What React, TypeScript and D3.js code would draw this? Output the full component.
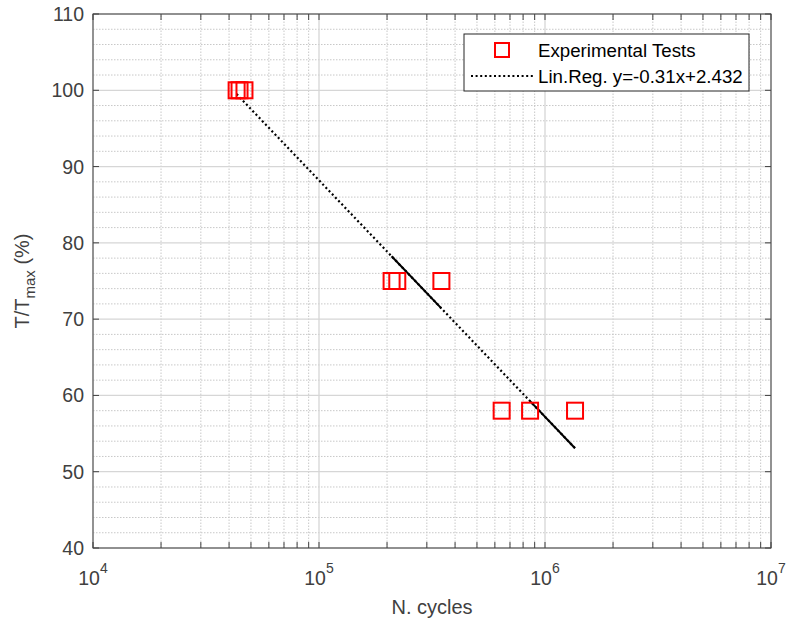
import * as d3 from "d3";

const WIDTH = 786;
const HEIGHT = 620;
const MARGIN = { top: 14, right: 15, bottom: 72, left: 93 };

// experimental tests: load level (%) and number of cycles
const LOAD_LEVELS = [100, 100, 100, 75, 75, 75, 58, 58, 58];
const CYCLES = [43200, 44500, 46800, 209500, 222000, 348000, 643000, 859000, 1358000];

// regression in the legend: T/Tmax = -0.31 log10(N) + 2.432
const REG_SLOPE = -0.31;
const REG_INTERCEPT = 2.432;
// stretches of the fit line that read as solid in the figure
const SOLID_SPANS: [number, number][] = [
  [209500, 348000],
  [859000, 1358000],
];

const Y_TICKS = [40, 50, 60, 70, 80, 90, 100, 110];
const X_DECADES = [4, 5, 6, 7];

const FONT = "'Liberation Sans', Arial, sans-serif";
const AXIS_COLOR = "#404040";

export default function App() {
  const x = d3
    .scaleLog()
    .domain([1e4, 1e7])
    .range([MARGIN.left, WIDTH - MARGIN.right]);
  const y = d3
    .scaleLinear()
    .domain([40, 110])
    .range([HEIGHT - MARGIN.bottom, MARGIN.top]);

  const x0 = MARGIN.left;
  const x1 = WIDTH - MARGIN.right;
  const y0 = HEIGHT - MARGIN.bottom;
  const y1 = MARGIN.top;

  const minorY = d3.range(40, 110, 2).filter((v) => v % 10 !== 0);
  const minorX: number[] = [];
  X_DECADES.slice(0, -1).forEach((e) => {
    for (let k = 2; k <= 9; k++) minorX.push(k * Math.pow(10, e));
  });

  const fit = (n: number) => 100 * (REG_SLOPE * Math.log10(n) + REG_INTERCEPT);
  const line = d3
    .line<number>()
    .x((n) => x(n))
    .y((n) => y(fit(n)));
  const [nMin, nMax] = d3.extent(CYCLES) as [number, number];

  const TICK = 6;

  return (
    <svg
      width={WIDTH}
      height={HEIGHT}
      style={{ position: "absolute", left: 0, top: 0, background: "#fff" }}
      fontFamily={FONT}
    >
      {/* minor grid */}
      {minorY.map((v) => (
        <line key={`my-${v}`} x1={x0} x2={x1} y1={y(v)} y2={y(v)} stroke="#c8c8c8" strokeWidth={1} strokeDasharray="1.5 1.5" />
      ))}
      {minorX.map((v) => (
        <line key={`mx-${v}`} x1={x(v)} x2={x(v)} y1={y0} y2={y1} stroke="#c8c8c8" strokeWidth={1} strokeDasharray="1.5 1.5" />
      ))}
      {/* major grid */}
      {Y_TICKS.map((v) => (
        <line key={`gy-${v}`} x1={x0} x2={x1} y1={y(v)} y2={y(v)} stroke="#d6d6d6" strokeWidth={1.3} />
      ))}
      {X_DECADES.map((e) => (
        <line key={`gx-${e}`} x1={x(Math.pow(10, e))} x2={x(Math.pow(10, e))} y1={y0} y2={y1} stroke="#d6d6d6" strokeWidth={1.3} />
      ))}

      {/* ticks */}
      {Y_TICKS.map((v) => (
        <g key={`ty-${v}`}>
          <line x1={x0} x2={x0 + TICK} y1={y(v)} y2={y(v)} stroke={AXIS_COLOR} />
          <line x1={x1} x2={x1 - TICK} y1={y(v)} y2={y(v)} stroke={AXIS_COLOR} />
          <text x={x0 - 9} y={y(v) + 7} textAnchor="end" fontSize={19.5} fill={AXIS_COLOR}>
            {v}
          </text>
        </g>
      ))}
      {[...minorX, ...X_DECADES.map((e) => Math.pow(10, e))].map((v) => (
        <g key={`tx-${v}`}>
          <line x1={x(v)} x2={x(v)} y1={y0} y2={y0 - TICK} stroke={AXIS_COLOR} />
          <line x1={x(v)} x2={x(v)} y1={y1} y2={y1 + TICK} stroke={AXIS_COLOR} />
        </g>
      ))}
      {X_DECADES.map((e) => (
        <text key={`lx-${e}`} x={x(Math.pow(10, e))} y={y0 + 37} textAnchor="middle" fontSize={19.5} fill={AXIS_COLOR}>
          10
          <tspan dy={-12} fontSize={14}>
            {e}
          </tspan>
        </text>
      ))}

      {/* frame */}
      <rect x={x0} y={y1} width={x1 - x0} height={y0 - y1} fill="none" stroke={AXIS_COLOR} strokeWidth={1} />

      {/* axis titles */}
      <text x={(x0 + x1) / 2} y={HEIGHT - 6} textAnchor="middle" fontSize={20} fill={AXIS_COLOR}>
        N. cycles
      </text>
      <text
        transform={`translate(29 ${(y0 + y1) / 2}) rotate(-90)`}
        textAnchor="middle"
        fontSize={20}
        fill={AXIS_COLOR}
      >
        T/T
        <tspan dy={6} fontSize={15}>
          max
        </tspan>
        <tspan dy={-6}> (%)</tspan>
      </text>

      {/* regression line */}
      <path d={line([nMin, nMax]) || ""} fill="none" stroke="#000" strokeWidth={2.2} strokeDasharray="2 2.6" />
      {SOLID_SPANS.map(([a, b]) => (
        <path key={`s-${a}`} d={line([a, b]) || ""} fill="none" stroke="#000" strokeWidth={2} />
      ))}

      {/* experimental points */}
      {CYCLES.map((n, i) => (
        <rect
          key={`p-${i}`}
          x={x(n) - 8}
          y={y(LOAD_LEVELS[i]) - 8}
          width={16}
          height={16}
          fill="none"
          stroke="#ff0000"
          strokeWidth={2}
        />
      ))}

      {/* legend */}
      <g>
        <rect x={464} y={34} width={285} height={57} fill="#fff" stroke="#262626" strokeWidth={1} />
        <rect x={495} y={43} width={14} height={14} fill="none" stroke="#ff0000" strokeWidth={2} />
        <text x={538} y={57} fontSize={18.7} fill="#000">
          Experimental Tests
        </text>
        <line x1={471} x2={533} y1={76} y2={76} stroke="#000" strokeWidth={2.2} strokeDasharray="2 2.6" />
        <text x={538} y={83} fontSize={18.7} fill="#000">
          Lin.Reg. y=-0.31x+2.432
        </text>
      </g>
    </svg>
  );
}
